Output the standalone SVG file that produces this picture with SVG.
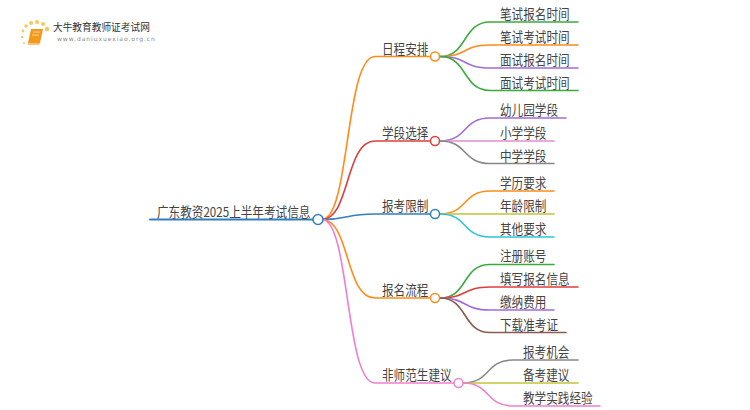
<svg xmlns="http://www.w3.org/2000/svg" width="750" height="410" viewBox="0 0 750 410">
<style>
text{font-family:"Noto Sans CJK SC","Liberation Sans",sans-serif;font-size:13.500px;fill:#444}
.c path{fill:none;stroke-width:1.600;stroke-linecap:round}
.n{fill:#fff;stroke-width:1.500}
.logo{font-size:9.700px;fill:#333}
.url{font-family:"DejaVu Sans",sans-serif;font-size:6px;fill:#888;letter-spacing:.95px}
</style>
<rect width="750" height="410" fill="#fff"/>
<g id="logo">
<g fill="#f9c65a"><circle cx="47" cy="29" r="2.200"/><circle cx="43" cy="24" r="2"/><circle cx="37" cy="22" r="2"/><circle cx="31" cy="23" r="2"/><circle cx="26" cy="26" r="1.800"/><circle cx="23" cy="31" r="1.400"/><circle cx="22" cy="37" r="1.200"/><circle cx="24" cy="43" r="1"/></g>
<path d="M31 29h12l-3 14H28z" fill="#f39a1d"/><path d="M28 43h12l-.6 2H27.500z" fill="#f6c37c"/><path d="M33 32h7M32 35h7" stroke="#fbd38a" stroke-width="1"/>
<text class="logo" x="53" y="31">大牛教育教师证考试网</text>
<text class="url" x="57" y="41">www.daniuxuexiao.org.cn</text>
</g>
<g id="connectors" class="c">
<path stroke="#2f80c2" stroke-width="2" style="stroke-width:2" d="M150 219.500H313"/>
<path stroke="#ff8c1a" d="M322 219.500C350 219.500 345 56.500 375 56.500H431"/>
<path stroke="#e03c3c" d="M322 219.500C350 219.500 345 141 375 141H431"/>
<path stroke="#2f80c2" d="M322 219.500C350 219.500 345 214 375 214H431"/>
<path stroke="#ff8c1a" d="M322 219.500C350 219.500 345 298 375 298H431"/>
<path stroke="#ee7fd0" d="M322 219.500C350 219.500 345 383 375 383H454"/>
<path stroke="#3cab3c" d="M440 56.500C468 56.500 462 22 490 22H578"/>
<path stroke="#ff8c1a" d="M440 56.500C468 56.500 462 45 490 45H578"/>
<path stroke="#a06cd5" d="M440 56.500C468 56.500 462 68 490 68H578"/>
<path stroke="#3cab3c" d="M440 56.500C468 56.500 462 90.500 490 90.500H578"/>
<path stroke="#a06cd5" d="M440 141C468 141 462 118 490 118H566"/>
<path stroke="#e58cd0" d="M440 141H554"/>
<path stroke="#888" d="M440 141C468 141 462 163.500 490 163.500H554"/>
<path stroke="#ff8c1a" d="M440 214C468 214 462 191 490 191H554"/>
<path stroke="#c4c43a" d="M440 214H554"/>
<path stroke="#2cc5d8" d="M440 214C468 214 462 237 490 237H554"/>
<path stroke="#3cab3c" d="M440 298C468 298 462 264.500 490 264.500H554"/>
<path stroke="#e03c3c" d="M440 298C468 298 462 287 490 287H578"/>
<path stroke="#a06cd5" d="M440 298C468 298 462 310 490 310H554"/>
<path stroke="#8c5a4e" d="M440 298C468 298 462 332.500 490 332.500H566"/>
<path stroke="#888" d="M463 383C491 383 485 360 513 360H578"/>
<path stroke="#c4c43a" d="M463 383H578"/>
<path stroke="#ee7fd0" d="M463 383C491 383 485 406 513 406H600"/>
</g>
<g id="root"><text transform="translate(157 216.500) scale(.86 1)">广东教资2025上半年考试信息</text><circle class="n" cx="318" cy="219.500" r="5" stroke="#2f80c2"/></g>
<g id="n1"><text transform="translate(382 54) scale(.86 1)">日程安排</text><circle class="n" cx="435" cy="56.500" r="4.500" stroke="#ff8c1a"/></g>
<g id="n2"><text transform="translate(382 138) scale(.86 1)">学段选择</text><circle class="n" cx="435" cy="141" r="4.500" stroke="#e03c3c"/></g>
<g id="n3"><text transform="translate(382 211) scale(.86 1)">报考限制</text><circle class="n" cx="435" cy="214" r="4.500" stroke="#2f80c2"/></g>
<g id="n4"><text transform="translate(382 295) scale(.86 1)">报名流程</text><circle class="n" cx="435" cy="298" r="4.500" stroke="#ff8c1a"/></g>
<g id="n5"><text transform="translate(382 380) scale(.86 1)">非师范生建议</text><circle class="n" cx="458.500" cy="383" r="4.500" stroke="#ee7fd0"/></g>
<g id="leaves">
<text transform="translate(500 19) scale(.86 1)">笔试报名时间</text>
<text transform="translate(500 42) scale(.86 1)">笔试考试时间</text>
<text transform="translate(500 65) scale(.86 1)">面试报名时间</text>
<text transform="translate(500 88) scale(.86 1)">面试考试时间</text>
<text transform="translate(500 115) scale(.86 1)">幼儿园学段</text>
<text transform="translate(500 138) scale(.86 1)">小学学段</text>
<text transform="translate(500 161) scale(.86 1)">中学学段</text>
<text transform="translate(500 188) scale(.86 1)">学历要求</text>
<text transform="translate(500 211) scale(.86 1)">年龄限制</text>
<text transform="translate(500 234) scale(.86 1)">其他要求</text>
<text transform="translate(500 261) scale(.86 1)">注册账号</text>
<text transform="translate(500 284) scale(.86 1)">填写报名信息</text>
<text transform="translate(500 307) scale(.86 1)">缴纳费用</text>
<text transform="translate(500 330) scale(.86 1)">下载准考证</text>
<text transform="translate(523 357) scale(.86 1)">报考机会</text>
<text transform="translate(523 380) scale(.86 1)">备考建议</text>
<text transform="translate(523 403) scale(.86 1)">教学实践经验</text>
</g>
</svg>
